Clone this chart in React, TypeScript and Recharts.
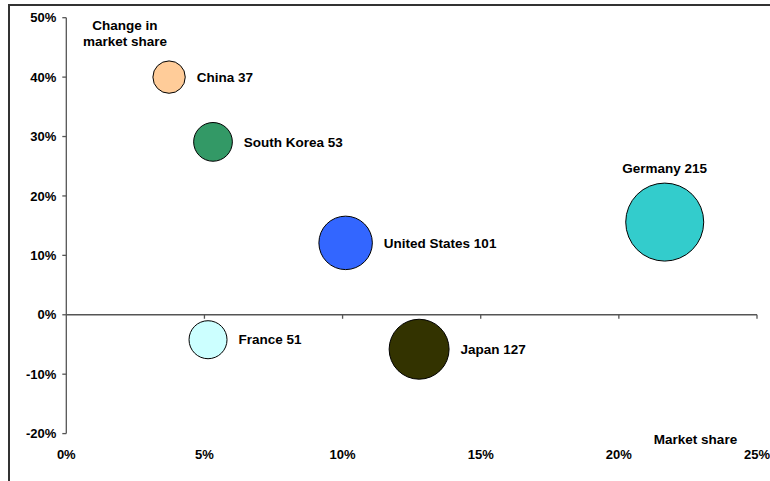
import React from 'react';
import { ScatterChart, Scatter, XAxis, YAxis, ZAxis, ReferenceLine, ReferenceDot } from 'recharts';

const countries = ['China', 'South Korea', 'United States', 'Germany', 'France', 'Japan'];
const marketShare = [3.72, 5.31, 10.11, 21.66, 5.13, 12.77];
const shareChange = [40.0, 29.1, 12.1, 15.6, -4.2, -5.8];
const bubbleValue = [37, 53, 101, 215, 51, 127];
const bubbleColors = ['#FFCC99', '#339966', '#3366FF', '#33CCCC', '#CCFFFF', '#333300'];

const xTicks = [0, 5, 10, 15, 20, 25];
const yTicks = [-20, -10, 0, 10, 20, 30, 40, 50];

const data = countries.map((name, i) => ({
  name,
  x: marketShare[i],
  y: shareChange[i],
  z: bubbleValue[i],
  color: bubbleColors[i],
}));

const FONT = '"Liberation Sans", Arial, Helvetica, sans-serif';
const AXIS = '#555555';
const LABEL_SIZE = 13.5;
const labelAbove = new Set(['Germany']);

function Bubble(props: any) {
  const { cx, cy, width, size, payload } = props;
  const r = width ? width / 2 : Math.sqrt((size || 0) / Math.PI);
  const text = `${payload.name} ${payload.z}`;
  const above = labelAbove.has(payload.name);
  return (
    <g>
      <circle cx={cx} cy={cy} r={r} fill={payload.color} stroke="#000" strokeWidth={1} />
      {above ? (
        <text x={cx} y={cy - r - 14.5} dy="0.35em" textAnchor="middle" fontFamily={FONT} fontWeight="bold" fontSize={LABEL_SIZE} fill="#000">
          {text}
        </text>
      ) : (
        <text x={cx + r + 11.5} y={cy} dy="0.35em" textAnchor="start" fontFamily={FONT} fontWeight="bold" fontSize={LABEL_SIZE} fill="#000">
          {text}
        </text>
      )}
    </g>
  );
}

const pct = (v: number) => `${v}%`;

export default function App() {
  return (
    <div style={{ position: 'absolute', left: 0, top: 0, width: 770, height: 481, background: '#fff', overflow: 'hidden' }}>
      <div
        style={{
          position: 'absolute',
          left: 8,
          top: 4,
          width: 800,
          height: 500,
          borderTop: '2px solid #333',
          borderLeft: '2px solid #333',
        }}
      />
      <div style={{ position: 'absolute', left: 0, top: 0 }}>
        <ScatterChart width={770} height={481} margin={{ top: 17.7, right: 13, bottom: 17.4, left: 0 }}>
          <XAxis
            type="number"
            dataKey="x"
            domain={[0, 25]}
            ticks={xTicks}
            interval={0}
            tickFormatter={pct}
            axisLine={false}
            tickLine={false}
            tickSize={0}
            tickMargin={16.5}
            height={30}
            tick={{ fill: '#000', fontFamily: FONT, fontWeight: 'bold', fontSize: 13 }}
            allowDataOverflow
          />
          <YAxis
            type="number"
            dataKey="y"
            domain={[-20, 50]}
            ticks={yTicks}
            interval={0}
            tickFormatter={pct}
            axisLine={{ stroke: AXIS, strokeWidth: 1.3 }}
            tickLine={{ stroke: AXIS, strokeWidth: 1.3 }}
            tickSize={4}
            tickMargin={6}
            width={66.3}
            tick={{ fill: '#000', fontFamily: FONT, fontWeight: 'bold', fontSize: 13 }}
            allowDataOverflow
          />
          <ZAxis type="number" dataKey="z" domain={[0, 215]} range={[0, 4778]} />
          <ReferenceLine y={0} stroke={AXIS} strokeWidth={1.3} />
          {xTicks
            .filter((v) => v > 0)
            .map((v) => (
              <ReferenceDot
                key={v}
                x={v}
                y={0}
                r={0}
                shape={(p: any) => <line x1={p.cx} y1={p.cy} x2={p.cx} y2={p.cy + 4} stroke={AXIS} strokeWidth={1.3} />}
              />
            ))}
          <Scatter data={data} isAnimationActive={false} shape={Bubble} />
        </ScatterChart>
      </div>
      <svg width={770} height={481} style={{ position: 'absolute', left: 0, top: 0, pointerEvents: 'none' }}>
        <text x={125} y={25} dy="0.35em" textAnchor="middle" fontFamily={FONT} fontWeight="bold" fontSize={LABEL_SIZE} fill="#000">
          Change in
        </text>
        <text x={125} y={41} dy="0.35em" textAnchor="middle" fontFamily={FONT} fontWeight="bold" fontSize={LABEL_SIZE} fill="#000">
          market share
        </text>
        <text x={695.5} y={439} dy="0.35em" textAnchor="middle" fontFamily={FONT} fontWeight="bold" fontSize={LABEL_SIZE} fill="#000">
          Market share
        </text>
      </svg>
    </div>
  );
}
